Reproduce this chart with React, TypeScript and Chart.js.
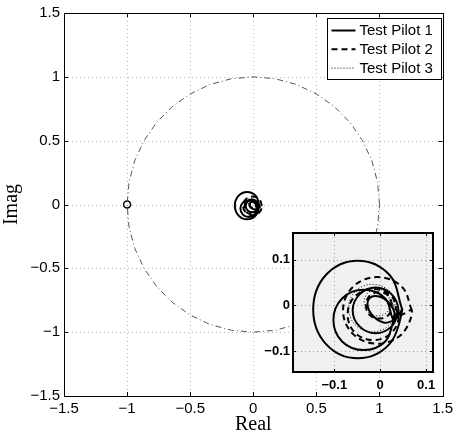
import React, { useEffect, useRef } from "react";
import { Chart, registerables } from "chart.js";

Chart.register(...registerables);

// ---------- data ----------
const MAIN_TICKS = [-1.5, -1, -0.5, 0, 0.5, 1, 1.5];
const INSET_TICKS = [-0.1, 0, 0.1];
const MAIN_RANGE = [-1.5, 1.5];
const INSET_X_RANGE = [-0.19, 0.115];
const INSET_Y_RANGE = [-0.146, 0.159];
const SERIES_LABELS = ["Test Pilot 1", "Test Pilot 2", "Test Pilot 3"];
const CRITICAL_POINT: [number, number][] = [[-1, 0]];

const unitCircle: [number, number][] = [
  [1, 0], [0.985, 0.174], [0.94, 0.342], [0.866, 0.5], [0.766, 0.643], [0.643, 0.766],
  [0.5, 0.866], [0.342, 0.94], [0.174, 0.985], [0, 1], [-0.174, 0.985], [-0.342, 0.94],
  [-0.5, 0.866], [-0.643, 0.766], [-0.766, 0.643], [-0.866, 0.5], [-0.94, 0.342], [-0.985, 0.174],
  [-1, 0], [-0.985, -0.174], [-0.94, -0.342], [-0.866, -0.5], [-0.766, -0.643], [-0.643, -0.766],
  [-0.5, -0.866], [-0.342, -0.94], [-0.174, -0.985], [0, -1], [0.174, -0.985], [0.342, -0.94],
  [0.5, -0.866], [0.643, -0.766], [0.766, -0.643], [0.866, -0.5], [0.94, -0.342], [0.985, -0.174],
  [1, 0],
];

const pilot1: [number, number][] = [
  [0.048, -0.009], [0.02, 0.067], [-0.049, 0.098], [-0.118, 0.067], [-0.146, -0.009],
  [-0.118, -0.085], [-0.049, -0.116], [0.02, -0.085], [0.048, -0.009],
  [0.03, -0.032], [0.011, 0.015], [-0.036, 0.034], [-0.083, 0.015], [-0.102, -0.032],
  [-0.083, -0.079], [-0.036, -0.098], [0.011, -0.079], [0.03, -0.032],
  [0.04, -0.011], [0.025, 0.024], [-0.01, 0.039], [-0.045, 0.024], [-0.06, -0.011],
  [-0.045, -0.046], [-0.01, -0.061], [0.025, -0.046], [0.04, -0.011],
  [0.027, -0.034], [0.031, -0.016], [0.018, 0.007], [-0.005, 0.02], [-0.023, 0.016],
  [-0.027, -0.003], [-0.014, -0.025], [0.009, -0.038], [0.027, -0.034],
];

const pilot2: [number, number][] = [
  [0.069, -0.011], [0.047, 0.041], [-0.006, 0.062], [-0.059, 0.041], [-0.081, -0.011],
  [-0.059, -0.063], [-0.006, -0.084], [0.047, -0.063], [0.069, -0.011],
  [0.041, -0.02], [0.025, 0.02], [-0.015, 0.036], [-0.055, 0.02], [-0.071, -0.02],
  [-0.055, -0.06], [-0.015, -0.076], [0.025, -0.06], [0.041, -0.02],
  [0.027, 0], [0.018, 0.021], [-0.002, 0.029], [-0.023, 0.021], [-0.031, 0],
  [-0.023, -0.021], [-0.002, -0.029], [0.018, -0.021], [0.027, 0],
];

const pilot3: [number, number][] = [
  [0.035, -0.006], [0.02, 0.031], [-0.017, 0.046], [-0.054, 0.031], [-0.069, -0.006],
  [-0.054, -0.043], [-0.017, -0.058], [0.02, -0.043], [0.035, -0.006],
  [0.023, 0.006], [0.015, 0.027], [-0.006, 0.035], [-0.027, 0.027], [-0.035, 0.006],
  [-0.027, -0.015], [-0.006, -0.023], [0.015, -0.015], [0.023, 0.006],
];

// ---------- helpers ----------
const pts = (a: [number, number][]) => a.map(([x, y]) => ({ x, y }));
const fmt = (v: number) => (v < 0 ? "\u2212" : "") + String(Math.abs(v));

const SANS = "'Liberation Sans', Arial, sans-serif";
const SERIF = "'Liberation Serif', 'Times New Roman', serif";

const PILOT_STYLES = [
  { color: "#000", width: 2, dash: [] as number[] },
  { color: "#000", width: 2, dash: [6, 4] },
  { color: "#000", width: 1, dash: [1, 2] },
];

function pilotDatasets() {
  return [pilot1, pilot2, pilot3].map((d, i) => ({
    label: SERIES_LABELS[i],
    data: pts(d),
    showLine: true,
    borderColor: PILOT_STYLES[i].color,
    borderWidth: PILOT_STYLES[i].width,
    borderDash: PILOT_STYLES[i].dash,
    tension: 0.38,
    pointRadius: 0,
    fill: false,
  }));
}

const framePlugin = {
  id: "frame",
  beforeDatasetsDraw(chart: any, _a: any, o: any) {
    const { ctx, chartArea: a, scales } = chart;
    ctx.save();
    if (o.bg) {
      ctx.fillStyle = o.bg;
      ctx.fillRect(a.left, a.top, a.right - a.left, a.bottom - a.top);
    }
    ctx.strokeStyle = o.gridColor;
    ctx.lineWidth = 1;
    ctx.setLineDash([1, 3]);
    for (const v of o.xTicks) {
      const x = Math.round(scales.x.getPixelForValue(v)) + 0.5;
      ctx.beginPath();
      ctx.moveTo(x, a.top);
      ctx.lineTo(x, a.bottom);
      ctx.stroke();
    }
    for (const v of o.yTicks) {
      const y = Math.round(scales.y.getPixelForValue(v)) + 0.5;
      ctx.beginPath();
      ctx.moveTo(a.left, y);
      ctx.lineTo(a.right, y);
      ctx.stroke();
    }
    ctx.restore();
  },
  afterDatasetsDraw(chart: any, _a: any, o: any) {
    const { ctx, chartArea: a, scales } = chart;
    ctx.save();
    ctx.strokeStyle = "#000";
    ctx.setLineDash([]);
    ctx.lineWidth = 1;
    const t = o.tickLen;
    for (const v of o.xTicks) {
      const x = Math.round(scales.x.getPixelForValue(v)) + 0.5;
      ctx.beginPath();
      ctx.moveTo(x, a.bottom);
      ctx.lineTo(x, a.bottom - t);
      ctx.moveTo(x, a.top);
      ctx.lineTo(x, a.top + t);
      ctx.stroke();
    }
    for (const v of o.yTicks) {
      const y = Math.round(scales.y.getPixelForValue(v)) + 0.5;
      ctx.beginPath();
      ctx.moveTo(a.left, y);
      ctx.lineTo(a.left + t, y);
      ctx.moveTo(a.right, y);
      ctx.lineTo(a.right - t, y);
      ctx.stroke();
    }
    ctx.lineWidth = o.borderWidth;
    const off = o.borderWidth % 2 === 1 ? 0.5 : 0;
    ctx.strokeRect(
      Math.round(a.left) + off,
      Math.round(a.top) + off,
      Math.round(a.right - a.left),
      Math.round(a.bottom - a.top)
    );

    if (o.legend) {
      const w = 114;
      const h = 61;
      const x0 = Math.round(a.right) - 2 - w + 0.5;
      const y0 = Math.round(a.top) + 5 + 0.5;
      ctx.fillStyle = "#fff";
      ctx.fillRect(x0, y0, w, h);
      ctx.lineWidth = 1;
      ctx.strokeStyle = "#000";
      ctx.strokeRect(x0, y0, w, h);
      ctx.font = `15px ${SANS}`;
      ctx.textBaseline = "middle";
      ctx.textAlign = "left";
      SERIES_LABELS.forEach((lab, i) => {
        const y = y0 + 12 + i * 18.8;
        const st = PILOT_STYLES[i];
        ctx.strokeStyle = st.color;
        ctx.lineWidth = st.width;
        ctx.setLineDash(st.dash);
        ctx.beginPath();
        ctx.moveTo(x0 + 4, y);
        ctx.lineTo(x0 + 28, y);
        ctx.stroke();
        ctx.setLineDash([]);
        ctx.fillStyle = "#000";
        ctx.fillText(lab, x0 + 32, y + 0.5);
      });
    }
    ctx.restore();
  },
};

function axis(
  range: number[],
  ticks: number[],
  font: any,
  padding: number,
  fit: (s: any) => void,
  title?: any
) {
  return {
    type: "linear" as const,
    min: range[0],
    max: range[1],
    afterBuildTicks: (s: any) => {
      s.ticks = ticks.map((v) => ({ value: v }));
    },
    afterFit: fit,
    ticks: {
      callback: (v: any) => fmt(Number(v)),
      font,
      color: "#000",
      padding,
      maxRotation: 0,
      autoSkip: false,
    },
    grid: { display: false, drawTicks: false },
    border: { display: false },
    title: title || { display: false },
  };
}

export default function App() {
  const mainRef = useRef<HTMLCanvasElement>(null);
  const insetRef = useRef<HTMLCanvasElement>(null);

  useEffect(() => {
    const tickFont = { family: SANS, size: 15 };
    const main = new Chart(mainRef.current!, {
      type: "scatter",
      data: {
        datasets: [
          {
            label: "unit",
            data: pts(unitCircle),
            showLine: true,
            borderColor: "#555",
            borderWidth: 1,
            borderDash: [6, 3, 1, 3],
            tension: 0,
            pointRadius: 0,
          },
          ...pilotDatasets(),
          {
            label: "critical",
            data: pts(CRITICAL_POINT),
            showLine: false,
            pointRadius: 3.5,
            pointBorderColor: "#000",
            pointBackgroundColor: "#fff",
            pointBorderWidth: 1.5,
          },
        ] as any,
      },
      options: {
        animation: false,
        responsive: false,
        devicePixelRatio: 1,
        events: [],
        layout: { padding: { top: 13, right: 12, left: 0, bottom: 0 } },
        plugins: {
          legend: { display: false },
          tooltip: { enabled: false },
          frame: {
            xTicks: MAIN_TICKS,
            yTicks: MAIN_TICKS,
            gridColor: "#b8b8b8",
            tickLen: 4,
            borderWidth: 1,
            legend: true,
          },
        } as any,
        scales: {
          x: axis(MAIN_RANGE, MAIN_TICKS, tickFont, 4, (s) => { s.height = 42; }, {
            display: true,
            text: "Real",
            color: "#000",
            font: { family: SERIF, size: 20 },
            padding: { top: 0, bottom: 1 },
          }),
          y: axis(MAIN_RANGE, MAIN_TICKS, tickFont, 4, (s) => { s.width = 64; }, {
            display: true,
            text: "Imag",
            color: "#000",
            font: { family: SERIF, size: 20 },
            padding: { top: 0, bottom: 0 },
          }),
        } as any,
      },
      plugins: [framePlugin],
    });

    const insetFont = { family: SANS, size: 13, weight: "bold" };
    const inset = new Chart(insetRef.current!, {
      type: "scatter",
      data: { datasets: pilotDatasets() as any },
      options: {
        animation: false,
        responsive: false,
        devicePixelRatio: 1,
        events: [],
        layout: { padding: { top: 10, right: 10, left: 0, bottom: 0 } },
        plugins: {
          legend: { display: false },
          tooltip: { enabled: false },
          frame: {
            xTicks: INSET_TICKS,
            yTicks: INSET_TICKS,
            gridColor: "#a0a0a0",
            tickLen: 3,
            borderWidth: 2,
            bg: "#f0f0f0",
            legend: false,
          },
        } as any,
        scales: {
          x: axis(INSET_X_RANGE, INSET_TICKS, insetFont, 6, (s) => { s.height = 30; }),
          y: axis(INSET_Y_RANGE, INSET_TICKS, insetFont, 3, (s) => { s.width = 50; }),
        } as any,
      },
      plugins: [framePlugin],
    });

    return () => {
      main.destroy();
      inset.destroy();
    };
  }, []);

  return (
    <div style={{ position: "fixed", left: 0, top: 0, width: 457, height: 438, background: "#fff" }}>
      <canvas ref={mainRef} width={457} height={438} style={{ position: "absolute", left: 0, top: 0 }} />
      <canvas ref={insetRef} width={200} height={180} style={{ position: "absolute", left: 243, top: 222 }} />
    </div>
  );
}
